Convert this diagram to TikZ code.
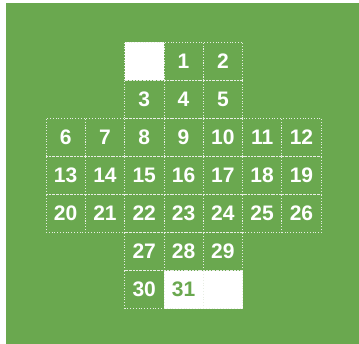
\documentclass[tikz,border=0pt]{standalone}
\usepackage{fontspec}
\setmainfont{Liberation Sans}
\definecolor{bg}{HTML}{6AA84F}
\definecolor{gridc}{HTML}{E8EEE4}
\begin{document}
\begin{tikzpicture}[x=1pt,y=-1pt,
  cell/.style={draw=gridc,dotted,line width=0.8pt,minimum width=39.3pt,minimum height=38.1pt,inner sep=0pt,
    font=\fontsize{21}{24}\selectfont\bfseries,text=white},
  wcell/.style={cell,fill=white,text=bg}]
\fill[white] (0,0) rectangle (359,344);
\fill[bg] (6,3) rectangle (359,344);
\useasboundingbox (0,0) rectangle (359,344);
\def\cw{39.3}\def\ch{38.1}
% row 0
\node[wcell] (b1) at ({46+2.5*\cw},{42+0.5*\ch}) {};
\node[cell] (c1) at ({46+3.5*\cw},{42+0.5*\ch}) {1};
\node[cell] (c2) at ({46+4.5*\cw},{42+0.5*\ch}) {2};
% row 1
\node[cell] (c3) at ({46+2.5*\cw},{42+1.5*\ch}) {3};
\node[cell] (c4) at ({46+3.5*\cw},{42+1.5*\ch}) {4};
\node[cell] (c5) at ({46+4.5*\cw},{42+1.5*\ch}) {5};
% rows 2-4
\foreach \r in {0,1,2}{
  \foreach \c in {0,...,6}{
    \pgfmathtruncatemacro{\n}{6+7*\r+\c}
    \node[cell] (c\n) at ({46+(\c+0.5)*\cw},{42+(\r+2.5)*\ch}) {\n};
  }
}
% row 5
\node[cell] (c27) at ({46+2.5*\cw},{42+5.5*\ch}) {27};
\node[cell] (c28) at ({46+3.5*\cw},{42+5.5*\ch}) {28};
\node[cell] (c29) at ({46+4.5*\cw},{42+5.5*\ch}) {29};
% row 6
\node[cell] (c30) at ({46+2.5*\cw},{42+6.5*\ch}) {30};
\node[wcell] (c31) at ({46+3.5*\cw},{42+6.5*\ch}) {31};
\node[wcell] (b2) at ({46+4.5*\cw},{42+6.5*\ch}) {};
\end{tikzpicture}
\end{document}
